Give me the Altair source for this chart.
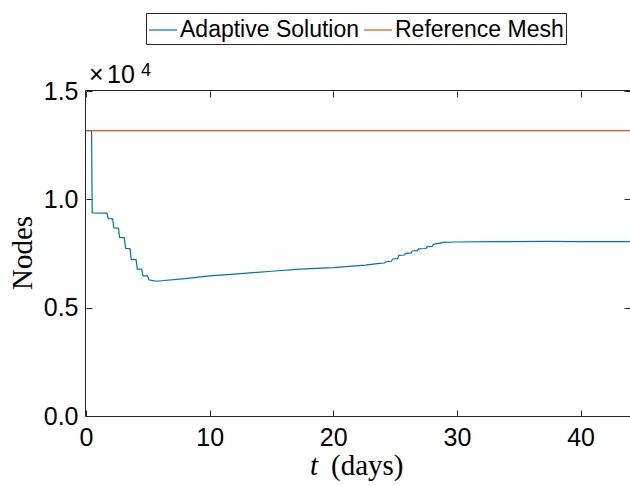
import altair as alt
import pandas as pd

# ---- data ----
t_adaptive = [0, 0.45, 0.5, 1.7, 1.8, 2.15, 2.25, 2.62, 2.72, 3.1, 3.2, 3.56, 3.66,
              4.05, 4.15, 4.5, 4.6, 4.98, 5.08, 5.5, 5.9, 8, 10, 12, 15, 17.3, 20,
              22.6, 23.7, 24.15, 24.25, 24.7, 24.8, 25.2, 25.3, 25.75, 25.85, 26.3,
              26.4, 26.8, 26.9, 27.5, 27.6, 28.0, 28.1, 28.9, 29.9, 33, 37.3, 40, 44]
nodes_adaptive = [13170, 13170, 9370, 9360, 9105, 9100, 8676, 8670, 8241, 8235, 7733,
                  7728, 7224, 7220, 6780, 6775, 6471, 6466, 6286, 6240, 6230, 6340,
                  6470, 6550, 6680, 6775, 6850, 6960, 7045, 7060, 7120, 7140, 7245,
                  7260, 7415, 7430, 7510, 7530, 7615, 7630, 7710, 7730, 7815, 7830,
                  7925, 8015, 8030, 8045, 8060, 8050, 8050]
t_reference = [0, 44]
nodes_reference = [13170, 13170]

series_names = ["Adaptive Solution", "Reference Mesh"]
series_colors = ["#0072BD", "#D95319"]
x_ticks = [0, 10, 20, 30, 40]
y_ticks = [0, 5000, 10000, 15000]
x_title_var = ["t"]
x_title_unit = ["(days)"]
y_title = ["Nodes"]
exp_times = ["\u00d7"]
exp_base = ["10"]
exp_power = ["4"]

df = pd.concat([
    pd.DataFrame({"t": t_adaptive, "nodes": nodes_adaptive, "series": series_names[0]}),
    pd.DataFrame({"t": t_reference, "nodes": nodes_reference, "series": series_names[1]}),
], ignore_index=True)

W, H = 544, 325
AX = "#262626"
SANS = "Liberation Sans"
SERIF = "Liberation Serif"

xscale = alt.Scale(domain=[0, 44], nice=False, zero=False)
yscale = alt.Scale(domain=[0, 15000], nice=False, zero=False)

common_axis = dict(grid=False, domain=False, tickSize=6, offset=-6, tickColor=AX,
                   tickWidth=1, title=None)

lines = alt.Chart(df).mark_line(strokeWidth=1.2, clip=True).encode(
    x=alt.X("t:Q", scale=xscale,
            axis=alt.Axis(orient="bottom", values=x_ticks, labelFont=SANS, labelFontSize=25,
                          labelColor="black", labelPadding=9, labelFlush=False, **common_axis)),
    y=alt.Y("nodes:Q", scale=yscale,
            axis=alt.Axis(orient="left", values=y_ticks,
                          labelExpr="format(datum.value/10000, '.1f')",
                          labelFont=SANS, labelFontSize=25, labelColor="black",
                          labelPadding=8, labelFlush=False, **common_axis)),
    color=alt.Color("series:N", sort=series_names,
                    scale=alt.Scale(domain=series_names, range=series_colors),
                    legend=alt.Legend(title=None, orient="none", legendX=60, legendY=-78,
                                      direction="horizontal", symbolType="stroke",
                                      symbolSize=784, symbolStrokeWidth=1.2,
                                      labelFont=SANS, labelFontSize=23, labelColor="black",
                                      labelOffset=2, columnPadding=1, padding=2,
                                      strokeColor=AX, fillColor="white", labelLimit=400)),
)

frame = alt.Chart(df).mark_line(opacity=0).encode(
    x=alt.X("t:Q", scale=xscale,
            axis=alt.Axis(orient="top", values=x_ticks, labels=False, **common_axis)),
    y=alt.Y("nodes:Q", scale=yscale,
            axis=alt.Axis(orient="right", values=y_ticks, labels=False, **common_axis)),
)

box = alt.Chart(pd.DataFrame({"k": [0]})).mark_rect(
    fillOpacity=0, stroke=AX, strokeWidth=1
).encode(x=alt.value(-0.5), x2=alt.value(W + 5), y=alt.value(-0.5), y2=alt.value(H + 0.5))

ylab = alt.Chart(pd.DataFrame({"txt": y_title})).mark_text(
    angle=270, font=SERIF, fontSize=29, align="center", baseline="alphabetic", color="black"
).encode(text="txt:N", x=alt.value(-54), y=alt.value(162))

xlab_t = alt.Chart(pd.DataFrame({"txt": x_title_var})).mark_text(
    font=SERIF, fontSize=29, fontStyle="italic", align="left", baseline="alphabetic",
    color="black"
).encode(text="txt:N", x=alt.value(224), y=alt.value(384))

xlab_u = alt.Chart(pd.DataFrame({"txt": x_title_unit})).mark_text(
    font=SERIF, fontSize=29, align="left", baseline="alphabetic", color="black"
).encode(text="txt:N", x=alt.value(245), y=alt.value(384))

exp0 = alt.Chart(pd.DataFrame({"txt": exp_times})).mark_text(
    font=SANS, fontSize=25, align="left", baseline="alphabetic", color="black"
).encode(text="txt:N", x=alt.value(3), y=alt.value(-8))

exp1 = alt.Chart(pd.DataFrame({"txt": exp_base})).mark_text(
    font=SANS, fontSize=25, align="left", baseline="alphabetic", color="black"
).encode(text="txt:N", x=alt.value(21), y=alt.value(-8))

exp2 = alt.Chart(pd.DataFrame({"txt": exp_power})).mark_text(
    font=SANS, fontSize=18, align="left", baseline="alphabetic", color="black"
).encode(text="txt:N", x=alt.value(55), y=alt.value(-15))

chart = alt.layer(lines, frame, box, ylab, xlab_t, xlab_u, exp0, exp1, exp2).resolve_axis(
    x="independent", y="independent"
).properties(
    width=W, height=H,
    autosize=alt.AutoSizeParams(type="none"),
    padding={"left": 86, "top": 91, "right": 0, "bottom": 70},
    background="white",
).configure_view(stroke=None)

chart.save("out.html", embed_options={"renderer": "svg", "actions": False})
